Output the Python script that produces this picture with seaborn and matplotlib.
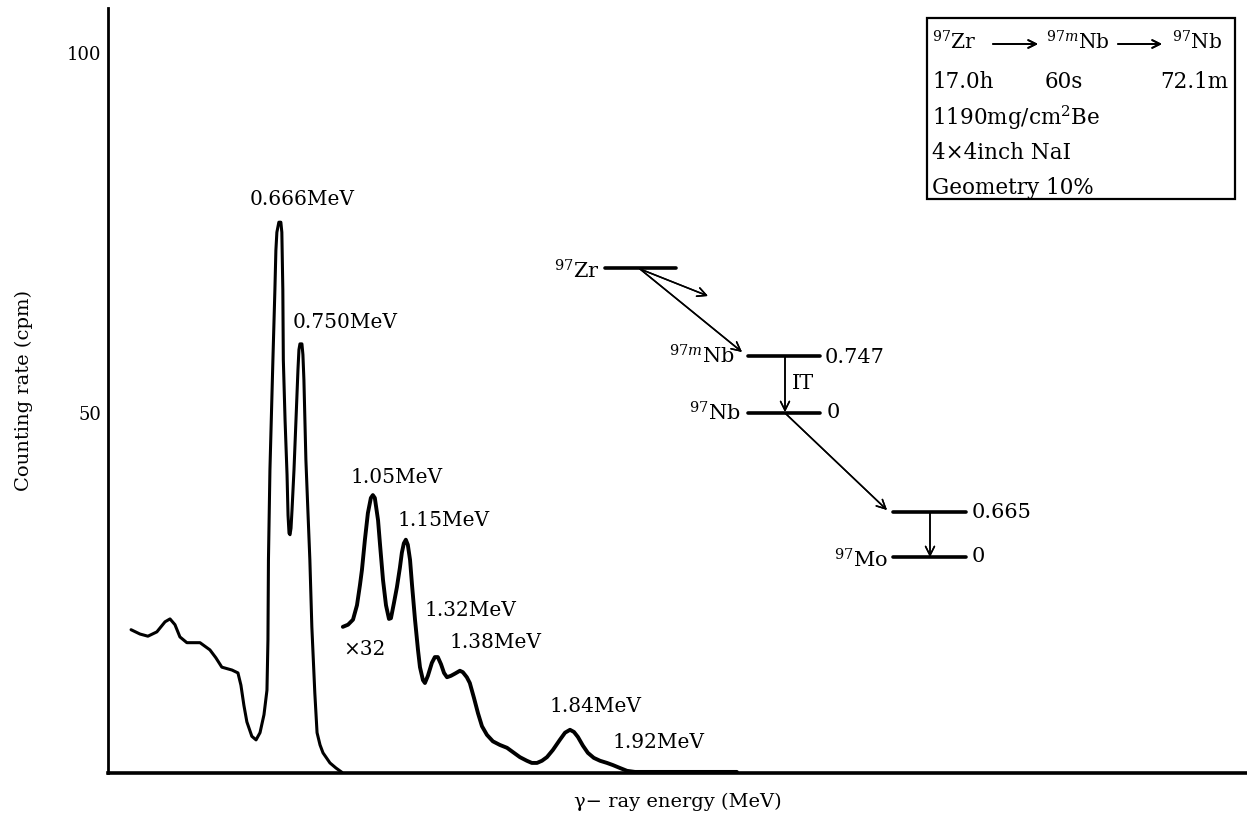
import numpy as np
import pandas as pd
import matplotlib
matplotlib.use("Agg")
import matplotlib.pyplot as plt
import seaborn as sns
from matplotlib.patches import Rectangle
from matplotlib.lines import Line2D

# ---------------- data ----------------
main_energy = [0.069, 0.105, 0.137, 0.173, 0.206, 0.226, 0.246, 0.266, 0.294, 0.347,
               0.387, 0.411, 0.435, 0.476, 0.500, 0.512, 0.524, 0.536, 0.556, 0.573,
               0.589, 0.605, 0.617, 0.621, 0.623, 0.629, 0.641, 0.649, 0.653, 0.657,
               0.665, 0.673, 0.677, 0.681, 0.683, 0.690, 0.698, 0.702, 0.706, 0.710,
               0.714, 0.718, 0.726, 0.734, 0.742, 0.746, 0.750, 0.758, 0.762, 0.766,
               0.774, 0.782, 0.790, 0.798, 0.810, 0.819, 0.831, 0.843, 0.871, 0.895,
               0.919]
main_counts = [19.9, 19.3, 19.0, 19.6, 21.0, 21.4, 20.6, 18.9, 18.1, 18.1,
               17.1, 16.0, 14.7, 14.3, 13.9, 12.2, 9.4, 7.1, 5.1, 4.6,
               5.6, 8.1, 11.5, 18.5, 29.6, 42.1, 57.4, 67.1, 72.6, 75.1,
               76.5, 76.5, 75.1, 67.1, 57.4, 49.0, 41.4, 35.8, 33.3, 33.1,
               34.0, 36.5, 42.1, 49.0, 56.0, 58.8, 59.6, 59.6, 58.1, 54.6,
               43.5, 36.5, 29.6, 20.3, 11.1, 5.6, 3.9, 2.8, 1.4, 0.7,
               0.1]

x32_energy = [0.923, 0.944, 0.964, 0.980, 0.992, 1.000, 1.012, 1.024, 1.036, 1.044,
              1.052, 1.065, 1.073, 1.085, 1.097, 1.109, 1.117, 1.129, 1.141, 1.153,
              1.161, 1.169, 1.177, 1.185, 1.194, 1.202, 1.214, 1.226, 1.234, 1.246,
              1.254, 1.266, 1.282, 1.294, 1.306, 1.319, 1.331, 1.343, 1.359, 1.375,
              1.395, 1.407, 1.423, 1.435, 1.452, 1.468, 1.484, 1.504, 1.528, 1.556,
              1.585, 1.609, 1.637, 1.665, 1.685, 1.706, 1.726, 1.746, 1.770, 1.798,
              1.819, 1.839, 1.855, 1.871, 1.891, 1.911, 1.935, 1.960, 1.988, 2.012,
              2.040, 2.069, 2.101, 2.161, 2.363, 2.512]
x32_counts = [20.3, 20.6, 21.3, 23.3, 26.1, 28.2, 32.4, 36.1, 38.2, 38.6,
              38.2, 35.1, 31.7, 26.8, 23.3, 21.4, 21.5, 23.6, 25.8, 28.5,
              30.6, 31.9, 32.4, 31.7, 29.6, 26.1, 21.3, 17.1, 14.7, 12.9,
              12.5, 13.5, 15.3, 16.1, 16.1, 15.1, 13.9, 13.3, 13.5, 13.8,
              14.2, 14.0, 13.3, 12.5, 10.4, 8.3, 6.5, 5.3, 4.4, 3.9,
              3.5, 2.9, 2.2, 1.7, 1.4, 1.4, 1.7, 2.2, 3.2, 4.6,
              5.6, 6.0, 5.7, 5.0, 3.8, 2.8, 2.1, 1.7, 1.4, 1.1,
              0.7, 0.3, 0.15, 0.15, 0.15, 0.15]

peak_labels = ["0.666MeV", "0.750MeV", "1.05MeV", "1.15MeV", "1.32MeV",
               "1.38MeV", "1.84MeV", "1.92MeV"]
y_ticks = [50, 100]
y_tick_labels = ["50", "100"]

legend_head = ["$^{97}$Zr", "$^{97m}$Nb", "$^{97}$Nb"]
legend_lines = ["17.0h", "60s", "72.1m", "1190mg/cm$^{2}$Be", "4\u00d74inch NaI", "Geometry 10%"]

# ---------------- style ----------------
sns.set_theme(style="white")
plt.rcParams["font.family"] = ["DejaVu Serif", "DejaVu Sans"]
plt.rcParams["mathtext.fontset"] = "dejavuserif"
plt.rcParams["text.color"] = "black"
plt.rcParams["axes.labelcolor"] = "black"
plt.rcParams["ytick.color"] = "black"

W, H = 1247, 838
fig = plt.figure(figsize=(W / 100, H / 100), dpi=100)
fig.patch.set_facecolor("white")
ax = fig.add_axes([108 / W, (H - 773) / H, (W - 108) / W, (773 - 8) / H])
ax.set_facecolor("white")


def px(x, y):
    """pixel position -> figure fraction (layout helper)"""
    return (x / W, 1 - y / H)


df_main = pd.DataFrame({"energy": main_energy, "counts": main_counts})
df_x32 = pd.DataFrame({"energy": x32_energy, "counts": x32_counts})
sns.lineplot(data=df_main, x="energy", y="counts", ax=ax, sort=False,
             estimator=None, color="black", linewidth=2.2)
sns.lineplot(data=df_x32, x="energy", y="counts", ax=ax, sort=False,
             estimator=None, color="black", linewidth=2.8)

ax.set_xlim(-0.024, 4.569)
ax.set_ylim(0, 106.25)
ax.set_xticks([])
ax.set_yticks(y_ticks)
ax.set_yticklabels(y_tick_labels, fontsize=13)
ax.tick_params(axis="y", direction="in", length=9, width=1.2, pad=5, colors="black")
for s in ["top", "right"]:
    ax.spines[s].set_visible(False)
ax.spines["left"].set_linewidth(2.0)
ax.spines["bottom"].set_linewidth(2.6)
ax.spines["left"].set_color("black")
ax.spines["bottom"].set_color("black")

ax.set_xlabel("\u03b3\u2212 ray energy (MeV)", fontsize=14, labelpad=14)
ax.set_ylabel("Counting rate (cpm)", fontsize=14, labelpad=24)

# peak labels (anchor positions, data coords)
label_pos = [(0.548, 79.6), (0.722, 62.6), (0.952, 41.1), (1.145, 35.1),
             (1.254, 22.6), (1.355, 18.1), (1.758, 9.2), (2.012, 4.3)]
for txt, (ex, cy) in zip(peak_labels, label_pos):
    ax.text(ex, cy, txt, fontsize=14.5, ha="left", va="center")
ax.text(0.923, 17.1, "\u00d732", fontsize=14.5, ha="left", va="center")

# ---------------- decay scheme ----------------
fs = 15
levels = [((605, 268), (676, 268)), ((748, 356), (820, 356)), ((748, 413), (820, 413)),
          ((893, 512), (966, 512)), ((893, 557), (966, 557))]
for (x0, y0), (x1, y1) in levels:
    a, b = px(x0, y0), px(x1, y1)
    fig.add_artist(Line2D([a[0], b[0]], [a[1], b[1]], color="black", lw=2.6,
                          transform=fig.transFigure))


def arrow(p0, p1, lw=1.1, ms=16):
    fig.add_artist(plt.annotate("", xy=px(*p1), xytext=px(*p0),
                                xycoords="figure fraction", textcoords="figure fraction",
                                arrowprops=dict(arrowstyle="->", lw=lw, color="black",
                                                mutation_scale=ms, shrinkA=0, shrinkB=0)))


arrows = [((640, 269), (708, 296)), ((640, 269), (742, 352)), ((785, 357), (785, 412)),
          ((785, 413), (887, 510)), ((930, 512), (930, 557))]
for p0, p1 in arrows:
    arrow(p0, p1)

texts = [("$^{97}$Zr", 600, 271, "right"), ("$^{97m}$Nb", 735, 356, "right"),
         ("0.747", 825, 357, "left"), ("IT", 792, 383, "left"),
         ("$^{97}$Nb", 741, 413, "right"), ("0", 827, 413, "left"),
         ("0.665", 972, 513, "left"), ("0", 972, 557, "left"),
         ("$^{97}$Mo", 888, 560, "right")]
for t, x, y, ha in texts:
    fx, fy = px(x, y)
    fig.text(fx, fy, t, fontsize=fs, ha=ha, va="center")

# ---------------- info box ----------------
bx0, by0 = px(927, 199)
bx1, by1 = px(1235, 18)
fig.add_artist(Rectangle((bx0, by0), bx1 - bx0, by1 - by0, transform=fig.transFigure,
                         fill=False, edgecolor="black", lw=1.6))
lf = 15.5
for t, x in zip(legend_head, [932, 1046, 1172]):
    fx, fy = px(x, 42)
    fig.text(fx, fy, t, fontsize=14.5, ha="left", va="center")
arrow((993, 44), (1038, 44), lw=1.3, ms=14)
arrow((1118, 44), (1162, 44), lw=1.3, ms=14)
for t, x in zip(legend_lines[:3], [932, 1045, 1160]):
    fx, fy = px(x, 82)
    fig.text(fx, fy, t, fontsize=lf, ha="left", va="center")
for t, y in zip(legend_lines[3:], [118, 153, 188]):
    fx, fy = px(932, y)
    fig.text(fx, fy, t, fontsize=lf, ha="left", va="center")

fig.savefig("out.png", dpi=100, facecolor="white")
